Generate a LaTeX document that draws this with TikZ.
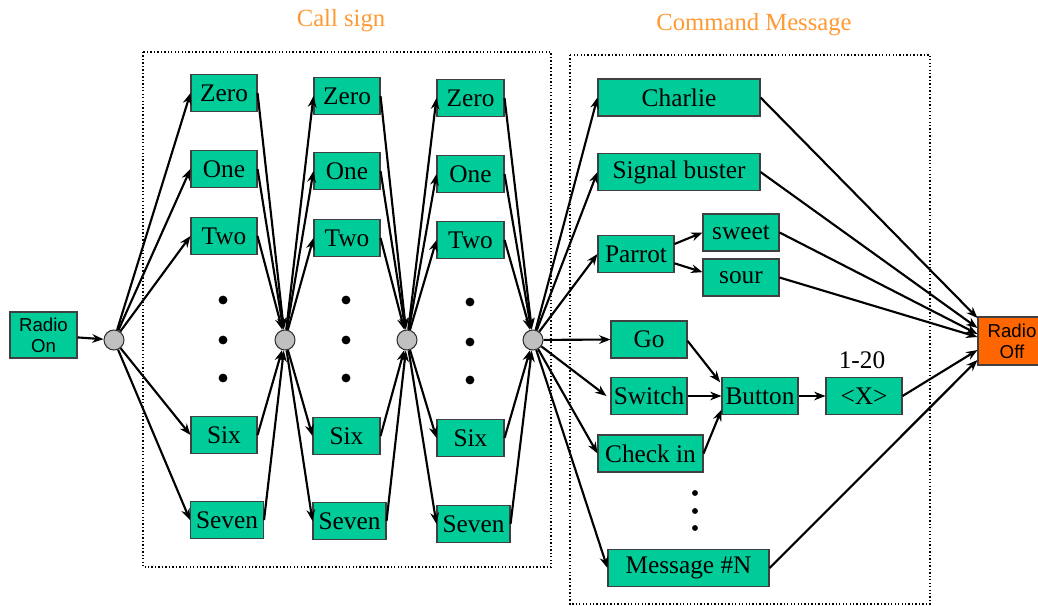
\documentclass[tikz,border=0pt]{standalone}
\usepackage{fontspec}
\setmainfont{Liberation Serif}
\newfontfamily\sansf{Liberation Sans}
\usetikzlibrary{arrows.meta}
\definecolor{boxgreen}{RGB}{0,204,153}
\definecolor{offorange}{RGB}{255,102,0}
\definecolor{titleorange}{RGB}{255,153,51}
\definecolor{hubgray}{RGB}{192,192,192}
\begin{document}
\begin{tikzpicture}[x=0.75pt,y=-0.75pt,
  box/.style={draw=black!75, fill=boxgreen, line width=0.8pt, inner sep=0pt,
    minimum height=27.75pt, font=\fontsize{19}{21}\selectfont},
  bw/.style={minimum width=#1*0.75pt},
  hub/.style={circle, draw=black!80, fill=hubgray, line width=0.8pt,
    minimum size=15pt, inner sep=0pt},
  arr/.style={-{Stealth[length=8.5pt,width=6.5pt]}, line width=1.6pt},
  grp/.style={draw, line width=1pt, dash pattern=on 1pt off 1.6pt},
  ttl/.style={text=titleorange, font=\fontsize{18.5}{20}\selectfont},
  endbox/.style={draw=black!75, line width=0.8pt, inner sep=0pt, align=center,
    font=\sansf\fontsize{14}{16}\selectfont}
]
\clip (0,0) rectangle (1038,606);

% group frames and titles
\draw[grp] (143,52) rectangle (551,567);
\draw[grp] (570,55) rectangle (930,604);
\node[ttl] (tcall) at (341,21) {Call sign};
\node[ttl] (tcmd) at (754,25) {Command Message};

% start / end
\node[endbox, fill=boxgreen, minimum width=50.25pt, minimum height=34.5pt] (on) at (43.5,335) {Radio\\On};
\node[endbox, fill=offorange, minimum width=51pt, minimum height=36pt] (off) at (1012,341) {Radio\\Off};

% hubs
\node[hub] (h1) at (114,340) {};
\node[hub] (h2) at (285,340) {};
\node[hub] (h3) at (407,340) {};
\node[hub] (h4) at (533,340) {};

% call sign digits, first position
\node[box, bw=66] (azero)  at (224,93)  {Zero};
\node[box, bw=66] (aone)   at (224,169) {One};
\node[box, bw=66] (atwo)   at (224,236) {Two};
\node[box, bw=66] (asix)   at (224,435) {Six};
\node[box, bw=73] (aseven) at (227,520) {Seven};
% second position
\node[box, bw=66] (bzero)  at (347,96)  {Zero};
\node[box, bw=66] (bone)   at (347,171) {One};
\node[box, bw=66] (btwo)   at (347,238) {Two};
\node[box, bw=67] (bsix)   at (346.5,436) {Six};
\node[box, bw=73] (bseven) at (349.5,521) {Seven};
% third position
\node[box, bw=67] (czero)  at (470.5,98)  {Zero};
\node[box, bw=67] (cone)   at (470.5,174) {One};
\node[box, bw=67] (ctwo)   at (470.5,240) {Two};
\node[box, bw=67] (csix)   at (470.5,438) {Six};
\node[box, bw=73] (cseven) at (473.5,524) {Seven};

% ellipsis dots between Two and Six
\foreach \x/\o in {223/0,346/0,470/2}{
  \foreach \y in {300,340,378}{
    \fill (\x,\y+\o) circle[radius=3.3pt];
  }
}

% command messages
\node[box, bw=162] (charlie) at (679,97.5) {Charlie};
\node[box, bw=162] (signal)  at (679,172)  {Signal buster};
\node[box, bw=76]  (parrot)  at (636,254)  {Parrot};
\node[box, bw=76]  (sweet)   at (741,232.5) {sweet};
\node[box, bw=76]  (sour)    at (741,277.5) {sour};
\node[box, bw=76]  (go)      at (649,339.5) {Go};
\node[box, bw=76]  (switch)  at (649,396)  {Switch};
\node[box, bw=105] (checkin) at (650.5,453.5) {Check in};
\node[box, bw=76]  (button)  at (760,396)  {Button};
\node[box, bw=76]  (xval)    at (864,396)  {<X>};
\node[font=\fontsize{19}{21}\selectfont] (range) at (862,360) {1-20};
\node[box, bw=161] (msgn)    at (688.5,568) {Message \#N};
\foreach \y in {493,511,528}{
  \fill (695,\y) circle[radius=2.2pt];
}

% connectors
\draw[arr] (on) -- (h1);
\foreach \d in {zero,one,two,six,seven}{
  \draw[arr] (h1) -- (a\d.west);
  \draw[arr] (a\d.east) -- (h2);
  \draw[arr] (h2) -- (b\d.west);
  \draw[arr] (b\d.east) -- (h3);
  \draw[arr] (h3) -- (c\d.west);
  \draw[arr] (c\d.east) -- (h4);
}
\draw[arr] (h4) -- (charlie.west);
\draw[arr] (h4) -- (signal.west);
\draw[arr] (h4) -- (parrot.west);
\draw[arr] (h4) -- (go.west);
\draw[arr] (h4) -- ([xshift=-3pt]switch.west);
\draw[arr] (h4) -- (checkin.west);
\draw[arr] (h4) -- (msgn.west);

\draw[arr] ([yshift=7.5pt]parrot.east) -- (sweet.west);
\draw[arr] ([yshift=-7pt]parrot.east) -- ([yshift=4pt]sour.west);
\draw[arr] ([yshift=-1pt]go.east) -- ([xshift=-1pt,yshift=-4pt]button.north west);
\draw[arr] (switch.east) -- (button.west);
\draw[arr] (checkin.east) -- ([yshift=4pt]button.south west);
\draw[arr] (button.east) -- (xval.west);

\draw[arr] (charlie.east) -- ([yshift=17.25pt]off.west);
\draw[arr] (signal.east)  -- ([yshift=9.75pt]off.west);
\draw[arr] (sweet.east)   -- ([yshift=5.25pt]off.west);
\draw[arr] (sour.east)    -- ([yshift=3pt]off.west);
\draw[arr] (xval.east)    -- ([yshift=-6.75pt]off.west);
\draw[arr] (msgn.east)    -- ([yshift=-14.25pt]off.west);
\end{tikzpicture}
\end{document}
